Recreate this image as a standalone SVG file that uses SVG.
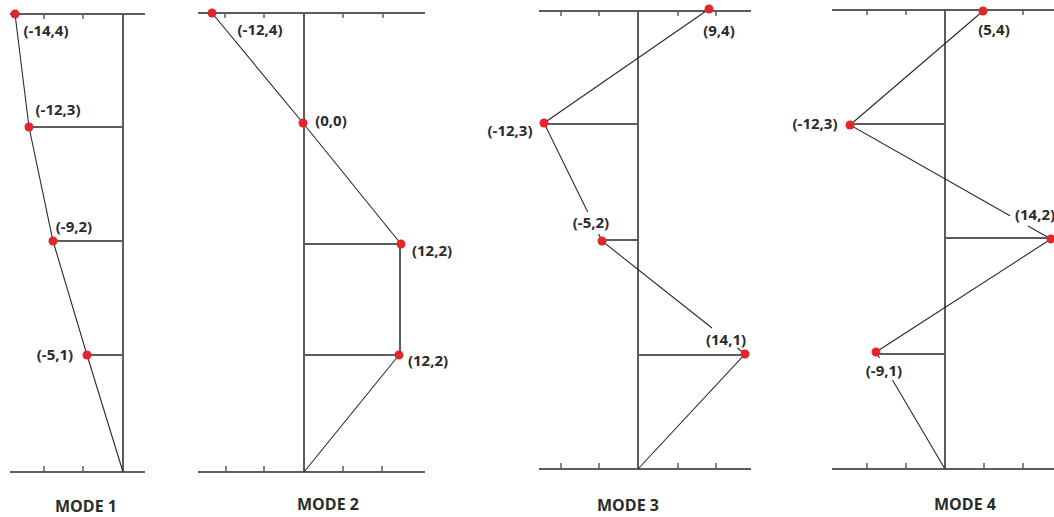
<svg xmlns="http://www.w3.org/2000/svg" width="1054" height="517" viewBox="0 0 1054 517">
  <style>
    .axis { stroke: #5c5c5c; stroke-width: 2; fill: none; }
    .tick { stroke: #5c5c5c; stroke-width: 1.5; fill: none; }
    .shape { stroke: #2a2a2a; stroke-width: 1.1; fill: none; }
    .dot { fill: #e3262b; }
    .lbl { font-family: "Open Sans", "Liberation Sans", sans-serif; font-weight: bold; font-size: 15px; fill: #2b2b2b; text-anchor: middle; }
    .title { font-family: "Open Sans", "Liberation Sans", sans-serif; font-weight: bold; font-size: 16px; fill: #2b2b2b; text-anchor: middle; }
  </style>
  <rect width="1054" height="517" fill="#ffffff"/>

  <!-- Frames (axes, floors, ticks) -->
  <g id="frame-mode1">
    <line class="axis" x1="10" y1="14" x2="145" y2="14"/>
    <line class="axis" x1="123" y1="14" x2="123" y2="472"/>
    <line class="axis" x1="10" y1="472" x2="145" y2="472"/>
    <line class="axis" x1="29" y1="127" x2="123" y2="127"/>
    <line class="axis" x1="53" y1="241" x2="123" y2="241"/>
    <line class="axis" x1="87" y1="355" x2="123" y2="355"/>
    <path class="tick" d="M44 14v5M83 14v5M44 472v-6M83 472v-6"/>
  </g>
  <g id="frame-mode2">
    <line class="axis" x1="198" y1="13" x2="425" y2="13"/>
    <line class="axis" x1="304" y1="13" x2="304" y2="472"/>
    <line class="axis" x1="198" y1="472" x2="425" y2="472"/>
    <line class="axis" x1="304" y1="244" x2="401" y2="244"/>
    <line class="axis" x1="304" y1="355" x2="400" y2="355"/>
    <path class="tick" d="M225 13v5M264 13v5M343 13v5M383 13v5M226 472v-6M264 472v-6M343 472v-6M382 472v-6"/>
  </g>
  <g id="frame-mode3">
    <line class="axis" x1="539" y1="11" x2="751" y2="11"/>
    <line class="axis" x1="638" y1="11" x2="638" y2="469"/>
    <line class="axis" x1="539" y1="469" x2="751" y2="469"/>
    <line class="axis" x1="544" y1="124" x2="638" y2="124"/>
    <line class="axis" x1="602" y1="240" x2="638" y2="240"/>
    <line class="axis" x1="638" y1="355" x2="745" y2="355"/>
    <path class="tick" d="M561 11v5M599 11v5M678 11v5M716 11v5M561 469v-6M599 469v-6M678 469v-6M716 469v-6"/>
  </g>
  <g id="frame-mode4">
    <line class="axis" x1="832" y1="10" x2="1054" y2="10"/>
    <line class="axis" x1="945" y1="10" x2="945" y2="469"/>
    <line class="axis" x1="832" y1="469" x2="1054" y2="469"/>
    <line class="axis" x1="850" y1="124" x2="945" y2="124"/>
    <line class="axis" x1="945" y1="238" x2="1051" y2="238"/>
    <line class="axis" x1="876" y1="354" x2="945" y2="354"/>
    <path class="tick" d="M867 10v5M906 10v5M984 10v5M1023 10v5M867 469v-6M906 469v-6M984 469v-6M1023 469v-6"/>
  </g>

  <!-- Connectors: mode shape lines (gaps where labels sit) -->
  <g id="connectors">
    <polyline class="shape" points="15,14 29,127 53,241 87,355 123,472"/>
    <polyline class="shape" points="212,13 303,123 401,244"/>
    <line class="axis" x1="400" y1="244" x2="400" y2="355"/>
    <line class="shape" x1="399" y1="355" x2="304" y2="472"/>
    <polyline class="shape" points="709,9 544,123 587.7,212"/>
    <polyline class="shape" points="598.6,234 602,241 712,328"/>
    <polyline class="shape" points="737.4,348 745,354 638,469"/>
    <polyline class="shape" points="983,11 850,125 1010,215.7"/>
    <polyline class="shape" points="1028,226 1051,239 876,352 879.5,358"/>
    <line class="shape" x1="892.5" y1="380" x2="945" y2="469"/>
  </g>

  <!-- Mode 1 nodes -->
  <g id="m1-p4"><circle class="dot" cx="15" cy="14" r="4.5"/><text class="lbl" x="46" y="36">(-14,4)</text></g>
  <g id="m1-p3"><circle class="dot" cx="29" cy="127" r="4.5"/><text class="lbl" x="58" y="115">(-12,3)</text></g>
  <g id="m1-p2"><circle class="dot" cx="53" cy="241" r="4.5"/><text class="lbl" x="74" y="232">(-9,2)</text></g>
  <g id="m1-p1"><circle class="dot" cx="87" cy="355" r="4.5"/><text class="lbl" x="55" y="360">(-5,1)</text></g>
  <g id="m1-title"><text class="title" x="86" y="512">MODE 1</text></g>

  <!-- Mode 2 nodes -->
  <g id="m2-p4"><circle class="dot" cx="212" cy="13" r="4.5"/><text class="lbl" x="260" y="35">(-12,4)</text></g>
  <g id="m2-p0"><circle class="dot" cx="303" cy="123" r="4.5"/><text class="lbl" x="331" y="126">(0,0)</text></g>
  <g id="m2-p2a"><circle class="dot" cx="401" cy="244" r="4.5"/><text class="lbl" x="432" y="256">(12,2)</text></g>
  <g id="m2-p2b"><circle class="dot" cx="399" cy="355" r="4.5"/><text class="lbl" x="428" y="366">(12,2)</text></g>
  <g id="m2-title"><text class="title" x="328" y="510">MODE 2</text></g>

  <!-- Mode 3 nodes -->
  <g id="m3-p4"><circle class="dot" cx="709" cy="9" r="4.5"/><text class="lbl" x="719" y="36">(9,4)</text></g>
  <g id="m3-p3"><circle class="dot" cx="544" cy="123" r="4.5"/><text class="lbl" x="510" y="136">(-12,3)</text></g>
  <g id="m3-p2"><circle class="dot" cx="602" cy="241" r="4.5"/><text class="lbl" x="591" y="228">(-5,2)</text></g>
  <g id="m3-p1"><circle class="dot" cx="745" cy="354" r="4.5"/><text class="lbl" x="726" y="345">(14,1)</text></g>
  <g id="m3-title"><text class="title" x="628" y="511">MODE 3</text></g>

  <!-- Mode 4 nodes -->
  <g id="m4-p4"><circle class="dot" cx="983" cy="11" r="4.5"/><text class="lbl" x="994" y="35">(5,4)</text></g>
  <g id="m4-p3"><circle class="dot" cx="850" cy="125" r="4.5"/><text class="lbl" x="815" y="129">(-12,3)</text></g>
  <g id="m4-p2"><circle class="dot" cx="1051" cy="239" r="4.5"/><text class="lbl" x="1035" y="220">(14,2)</text></g>
  <g id="m4-p1"><circle class="dot" cx="876" cy="352" r="4.5"/><text class="lbl" x="884" y="376">(-9,1)</text></g>
  <g id="m4-title"><text class="title" x="965" y="510">MODE 4</text></g>
</svg>
